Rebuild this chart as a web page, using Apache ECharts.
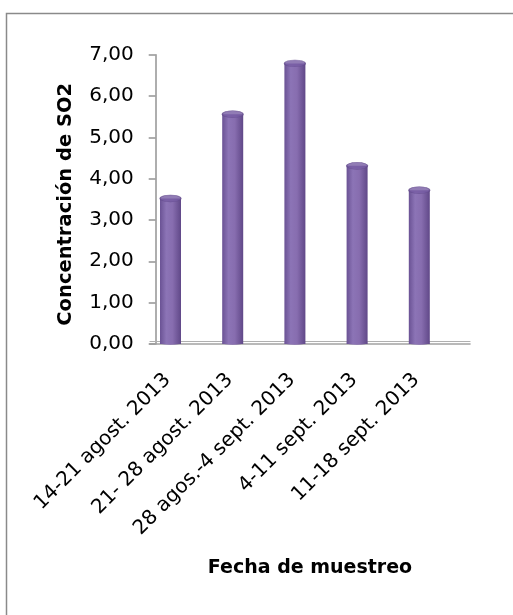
<!DOCTYPE html>
<html>
<head>
<meta charset="utf-8">
<script src="https://cdn.jsdelivr.net/npm/echarts@6/dist/echarts.min.js"></script>
<style>
html,body{margin:0;padding:0;background:#fff;}
#chart{width:513px;height:615px;}
</style>
</head>
<body>
<div id="chart"></div>
<script>
const categories = ['14-21 agost. 2013', '21- 28 agost. 2013', '28 agos.-4 sept. 2013', '4-11 sept. 2013', '11-18 sept. 2013'];
const so2Values = [3.52, 5.56, 6.79, 4.31, 3.72];
const yTicks = [0, 1, 2, 3, 4, 5, 6, 7];
const yAxisTitle = 'Concentración de SO2';
const xAxisTitle = 'Fecha de muestreo';

const FONT = 'DejaVu Sans';
const GRID_TOP = 54.7;
const GRID_H = 289.2;
const fmt = v => v.toFixed(2).replace('.', ',');

const barGrad = new echarts.graphic.LinearGradient(0, 0, 1, 0, [
  {offset: 0, color: '#6a5294'},
  {offset: 0.3, color: '#8c74b6'},
  {offset: 0.6, color: '#876daf'},
  {offset: 1, color: '#604888'}
]);

const chart = echarts.init(document.getElementById('chart'), null, {renderer: 'canvas'});
chart.setOption({
  animation: false,
  backgroundColor: '#ffffff',
  graphic: [{
    type: 'rect',
    shape: {x: 6.5, y: 13.5, width: 1000, height: 1000},
    style: {fill: 'none', stroke: '#8a8a8a', lineWidth: 1.5},
    silent: true, z: -10
  }],
  grid: [
    {left: 139.4, top: GRID_TOP, width: 311, height: GRID_H},
    {left: 150, top: GRID_TOP, width: 320, height: GRID_H},
    {left: 136.5, top: GRID_TOP, width: 311, height: GRID_H}
  ],
  xAxis: [
    {type: 'category', gridIndex: 0, data: categories, boundaryGap: true,
     axisLine: {show: false}, axisTick: {show: false}, axisLabel: {show: false}},
    {type: 'value', gridIndex: 1, min: 0, max: 1, position: 'bottom',
     axisLine: {show: true, lineStyle: {color: '#a3a3a3', width: 1.6}},
     axisTick: {show: false}, axisLabel: {show: false}, splitLine: {show: false},
     name: xAxisTitle, nameLocation: 'middle', nameGap: 215,
     nameTextStyle: {fontFamily: FONT, fontSize: 19, fontWeight: 'bold', color: '#000'}},
    {type: 'value', gridIndex: 1, min: 0, max: 1, position: 'bottom', offset: -3,
     axisLine: {show: true, lineStyle: {color: '#b0b0b0', width: 1.2}},
     axisTick: {show: false}, axisLabel: {show: false}, splitLine: {show: false}},
    {type: 'category', gridIndex: 2, data: categories, boundaryGap: true,
     axisLine: {show: false}, axisTick: {show: false},
     axisLabel: {show: true, interval: 0, rotate: 45, margin: 33,
       fontFamily: FONT, fontSize: 20, color: '#000'}}
  ],
  yAxis: [
    {type: 'value', gridIndex: 0, min: 0, max: 7, interval: 1, show: false},
    {type: 'value', gridIndex: 1, min: 0, max: 7, interval: 1, offset: -5.7,
     axisLine: {show: true, lineStyle: {color: '#9a9a9a', width: 1.6}},
     axisTick: {show: true, length: 7, lineStyle: {color: '#9a9a9a', width: 1.6}},
     splitLine: {show: false},
     axisLabel: {margin: 22, fontFamily: FONT, fontSize: 20, color: '#000',
       formatter: v => yTicks.includes(v) ? fmt(v) : ''},
     name: yAxisTitle, nameLocation: 'middle', nameGap: 80, nameRotate: 90,
     nameTextStyle: {fontFamily: FONT, fontSize: 19.5, fontWeight: 'bold', color: '#000',
       padding: [0, 10, 0, 0]}},
    {type: 'value', gridIndex: 2, min: 0, max: 7, show: false}
  ],
  series: [
    {type: 'bar', xAxisIndex: 0, yAxisIndex: 0, data: so2Values, barWidth: 21,
     itemStyle: {color: barGrad}, z: 3},
    {type: 'scatter', xAxisIndex: 0, yAxisIndex: 0, data: so2Values.map(() => 0),
     symbol: 'circle', symbolSize: [21, 4], symbolOffset: [0, -1], itemStyle: {color: barGrad}, z: 2, silent: true},
    {type: 'scatter', xAxisIndex: 0, yAxisIndex: 0, data: so2Values,
     symbol: 'circle', symbolSize: [21, 7],
     itemStyle: {color: '#755ba2', borderColor: '#644c8c', borderWidth: 0.8}, z: 4, silent: true}
  ]
});
</script>
</body>
</html>
